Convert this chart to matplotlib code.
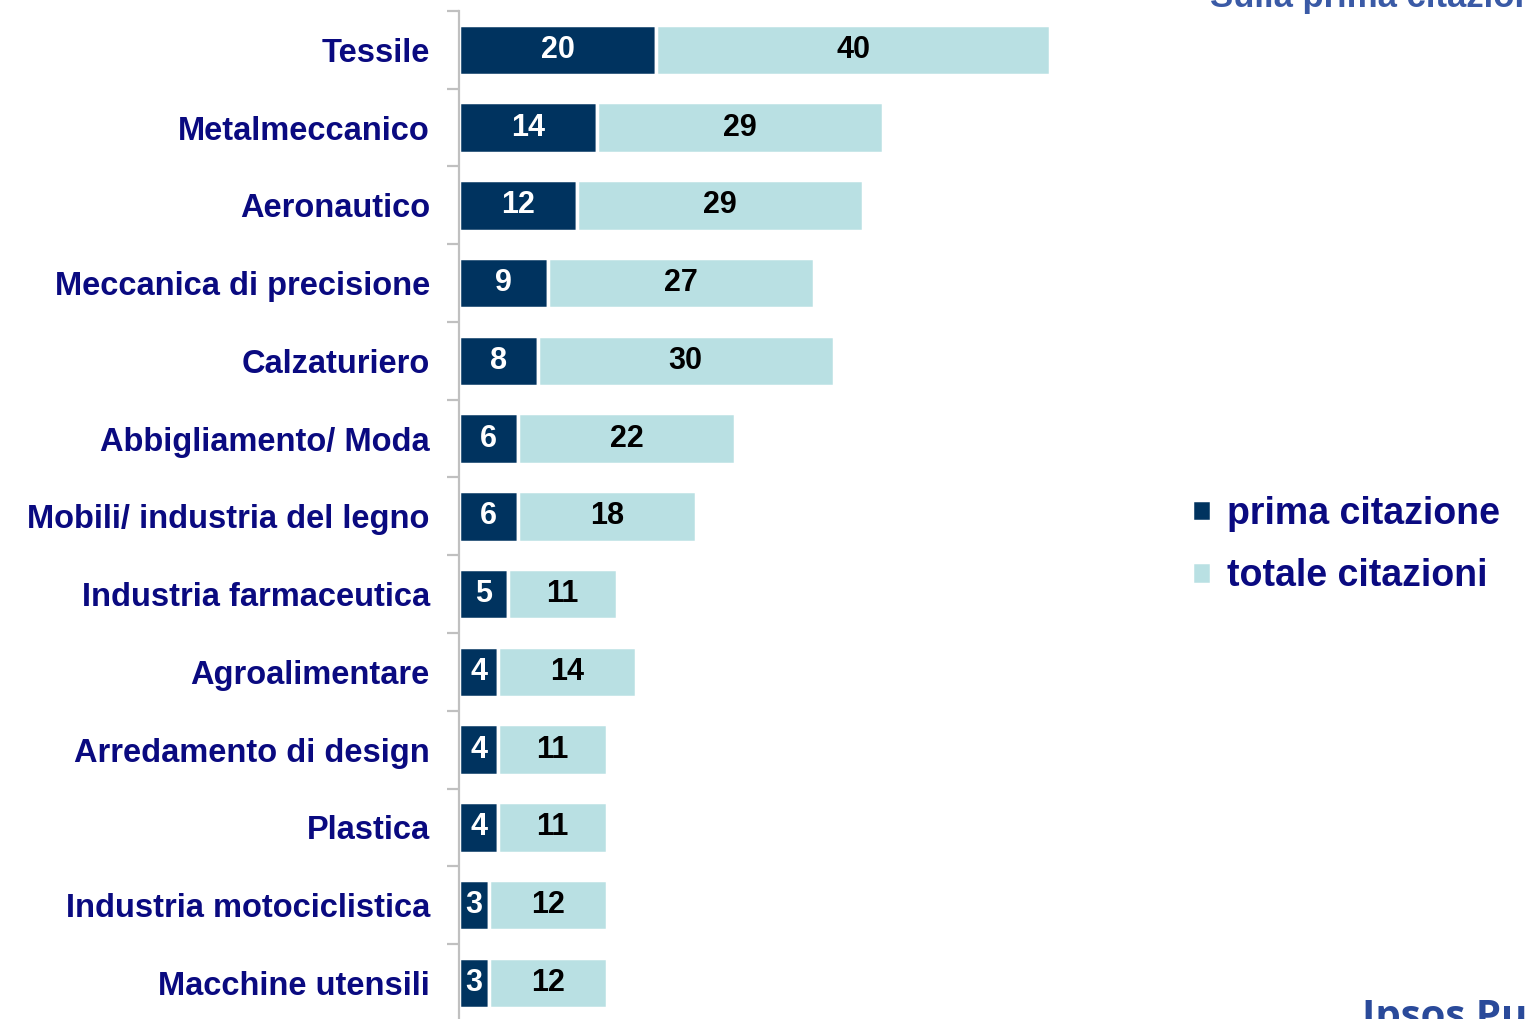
import matplotlib.pyplot as plt
import numpy as np

# --- dati ---
settori = ["Tessile", "Metalmeccanico", "Aeronautico", "Meccanica di precisione",
           "Calzaturiero", "Abbigliamento/ Moda", "Mobili/ industria del legno",
           "Industria farmaceutica", "Agroalimentare", "Arredamento di design",
           "Plastica", "Industria motociclistica", "Macchine utensili"]
prima = [20, 14, 12, 9, 8, 6, 6, 5, 4, 4, 4, 3, 3]
totale = [40, 29, 29, 27, 30, 22, 18, 11, 14, 11, 11, 12, 12]

SCURO = "#00335f"
CHIARO = "#b9e0e3"
NAVY = "#0a0a80"

plt.rcParams['font.family'] = ['Liberation Sans', 'DejaVu Sans']

fig = plt.figure(figsize=(15.25, 10.19), dpi=100)
ax = fig.add_axes([459 / 1525, -2.75 / 1019, 690 / 1525, 1010.75 / 1019])

y = np.arange(len(settori))
ax.barh(y, prima, height=0.65, color=SCURO, edgecolor="white", linewidth=2.5,
        label="prima citazione")
ax.barh(y, totale, left=prima, height=0.65, color=CHIARO, edgecolor="white",
        linewidth=2.5, label="totale citazioni")

# etichette valori
for i, (p, t) in enumerate(zip(prima, totale)):
    ax.text(p / 2, i, str(p), ha="center", va="center", color="white",
            fontsize=22, fontweight="bold")
    ax.text(p + t / 2, i, str(t), ha="center", va="center", color="black",
            fontsize=22, fontweight="bold")

ax.set_xlim(0, 70)
ax.set_ylim(len(settori) - 0.5, -0.5)

# assi
for s in ["top", "right", "bottom"]:
    ax.spines[s].set_visible(False)
ax.spines["left"].set_color("#c0c0c0")
ax.spines["left"].set_linewidth(1.6)
ax.spines["left"].set_zorder(3)
ax.set_xticks([])
ax.set_yticks(y)
ax.set_yticklabels(settori, fontsize=23.5, fontweight="bold", color=NAVY)
ax.tick_params(axis="y", which="major", length=0, pad=21)
ax.set_yticks(np.arange(-0.5, len(settori), 1), minor=True)
ax.tick_params(axis="y", which="minor", length=9, width=1.6, color="#c0c0c0")

# legenda
leg = fig.legend(loc="center left", bbox_to_anchor=(1158 / 1525, 1 - 545 / 1019),
                 frameon=False, fontsize=27, handlelength=0.5, handleheight=0.5,
                 handletextpad=0.45, labelspacing=0.7)
for txt in leg.get_texts():
    txt.set_color(NAVY)
    txt.set_fontweight("bold")

# testi di bordo della slide (tagliati come nell'originale)
fig.text(1210 / 1525, 1 - 7 / 1019, "Sulla prima citazione", fontsize=25,
         fontweight="bold", color="#3a5aa6", va="baseline", ha="left")
fig.text(1362 / 1525, 1 - 1028 / 1019, "Ipsos Public Affairs", fontsize=29,
         fontweight="bold", color="#2a4a9a", va="baseline", ha="left",
         family=["Open Sans", "DejaVu Sans"])

plt.savefig("out.png", dpi=100)
